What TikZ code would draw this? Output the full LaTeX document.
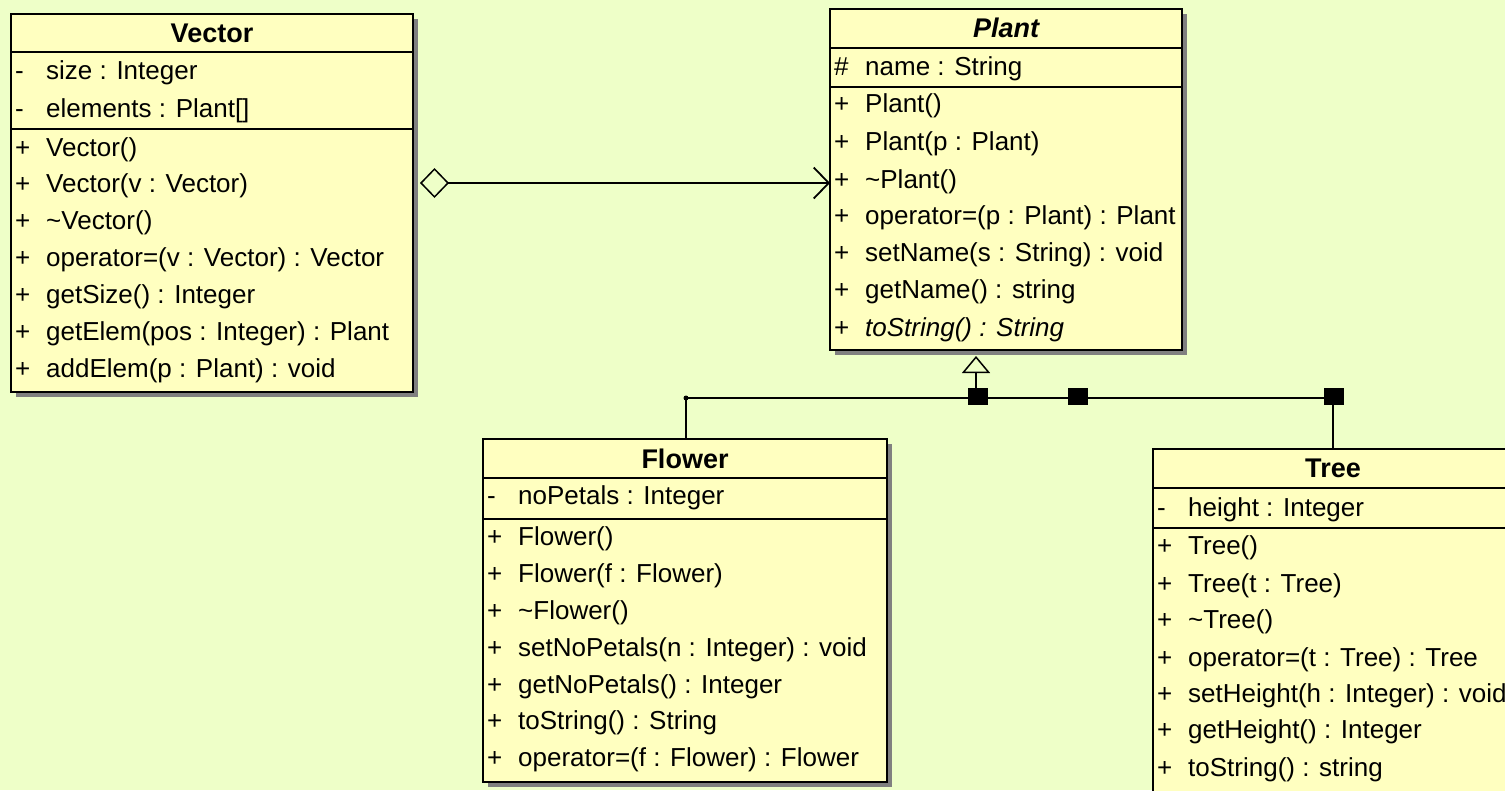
\documentclass[tikz,border=0pt]{standalone}
\usepackage{fontspec}
\setmainfont{Liberation Sans}
\usetikzlibrary{arrows.meta,shadows,positioning}

\definecolor{bgcolor}{RGB}{238,255,200}
\definecolor{boxcolor}{RGB}{255,255,192}

\tikzset{
	umlbox/.style={draw=black, line width=1.8pt, fill=boxcolor, inner sep=0pt, outer sep=0pt, anchor=north west,
		drop shadow={shadow xshift=5pt, shadow yshift=-5pt, fill=black!50, opacity=1}},
	umlline/.style={line width=1.8pt, draw=black},
	vis/.style={anchor=west, inner sep=0pt, text height=19pt, text depth=5pt, font=\fontsize{26}{31}\selectfont},
	member/.style={anchor=west, inner sep=0pt, text height=19pt, text depth=5pt, font=\fontsize{26}{31}\selectfont},
	classname/.style={inner sep=0pt, font=\fontsize{27}{32}\selectfont\bfseries},
	handle/.style={fill=black, minimum width=20pt, minimum height=17pt, inner sep=0pt},
	joint/.style={circle, fill=black, minimum size=5pt, inner sep=0pt},
}
\newcommand{\classrow}[5]{\node[vis] (#1-vis) at (#2,#3) {#4}; \node[member] (#1) at (#2+31,#3) {#5};}

\begin{document}
\begin{tikzpicture}[x=1pt, y=-1pt]
	%%%%% START %%%%%
	\useasboundingbox (0,0) rectangle (1505,790);
	\fill[bgcolor] (0,0) rectangle (1505,790);
	\clip (0,0) rectangle (1505,790);
	
	% Vector
	\node[umlbox, minimum width=402pt, minimum height=378pt] (vector) at (11,14) {};
	\draw[umlline] (vector.west |- 0,52) -- (vector.east |- 0,52);
	\draw[umlline] (vector.west |- 0,129) -- (vector.east |- 0,129);
	\node[classname] (vector-name) at (212,33) {Vector};
	\classrow{vec-a1}{15}{72}{-}{size : Integer}
	\classrow{vec-a2}{15}{110}{-}{elements : Plant[]}
	\classrow{vec-m1}{15}{149}{+}{Vector()}
	\classrow{vec-m2}{15}{185}{+}{Vector(v : Vector)}
	\classrow{vec-m3}{15}{222}{+}{\textasciitilde Vector()}
	\classrow{vec-m4}{15}{259}{+}{operator=(v : Vector) : Vector}
	\classrow{vec-m5}{15}{296}{+}{getSize() : Integer}
	\classrow{vec-m6}{15}{333}{+}{getElem(pos : Integer) : Plant}
	\classrow{vec-m7}{15}{370}{+}{addElem(p : Plant) : void}
	
	% Plant
	\node[umlbox, minimum width=352pt, minimum height=341pt] (plant) at (830,9) {};
	\draw[umlline] (plant.west |- 0,48) -- (plant.east |- 0,48);
	\draw[umlline] (plant.west |- 0,87) -- (plant.east |- 0,87);
	\node[classname, font=\fontsize{27}{32}\selectfont\bfseries\itshape] (plant-name) at (1006,28) {Plant};
	\classrow{pla-a1}{834}{68}{\#}{name : String}
	\classrow{pla-m1}{834}{105}{+}{Plant()}
	\classrow{pla-m2}{834}{143}{+}{Plant(p : Plant)}
	\classrow{pla-m3}{834}{181}{+}{\textasciitilde Plant()}
	\classrow{pla-m4}{834}{217}{+}{operator=(p : Plant) : Plant}
	\classrow{pla-m5}{834}{254}{+}{setName(s : String) : void}
	\classrow{pla-m6}{834}{291}{+}{getName() : string}
	\classrow{pla-m7}{834}{329}{+}{\itshape toString() : String}
	
	% Flower
	\node[umlbox, minimum width=404pt, minimum height=343pt] (flower) at (483,439) {};
	\draw[umlline] (flower.west |- 0,478) -- (flower.east |- 0,478);
	\draw[umlline] (flower.west |- 0,519) -- (flower.east |- 0,519);
	\node[classname] (flower-name) at (685,459) {Flower};
	\classrow{flo-a1}{487}{497}{-}{noPetals : Integer}
	\classrow{flo-m1}{487}{538}{+}{Flower()}
	\classrow{flo-m2}{487}{575}{+}{Flower(f : Flower)}
	\classrow{flo-m3}{487}{612}{+}{\textasciitilde Flower()}
	\classrow{flo-m4}{487}{649}{+}{setNoPetals(n : Integer) : void}
	\classrow{flo-m5}{487}{686}{+}{getNoPetals() : Integer}
	\classrow{flo-m6}{487}{722}{+}{toString() : String}
	\classrow{flo-m7}{487}{759}{+}{operator=(f : Flower) : Flower}
	
	% Tree
	\node[umlbox, minimum width=360pt, minimum height=360pt] (tree) at (1153,449) {};
	\draw[umlline] (tree.west |- 0,488) -- (tree.east |- 0,488);
	\draw[umlline] (tree.west |- 0,528) -- (tree.east |- 0,528);
	\node[classname] (tree-name) at (1333,468) {Tree};
	\classrow{tre-a1}{1157}{509}{-}{height : Integer}
	\classrow{tre-m1}{1157}{547}{+}{Tree()}
	\classrow{tre-m2}{1157}{585}{+}{Tree(t : Tree)}
	\classrow{tre-m3}{1157}{621}{+}{\textasciitilde Tree()}
	\classrow{tre-m4}{1157}{659}{+}{operator=(t : Tree) : Tree}
	\classrow{tre-m5}{1157}{695}{+}{setHeight(h : Integer) : void}
	\classrow{tre-m6}{1157}{731}{+}{getHeight() : Integer}
	\classrow{tre-m7}{1157}{769}{+}{toString() : string}
	
	% aggregation Vector -> Plant
	\coordinate (assoc) at (0,183);
	\draw[umlline, {Diamond[open, length=29pt, width=30pt, line width=1.5pt]}-{Straight Barb[length=15pt, width=31pt, line width=1.8pt]}, shorten <=7pt]
		(vector.east |- assoc) -- (plant.west |- assoc);
	
	% generalization Flower, Tree -> Plant
	\coordinate (split) at (976,398);
	\coordinate (flowerjoin) at (686,398);
	\coordinate (treejoin) at (1333,398);
	\draw[umlline, -{Triangle[open, length=17pt, width=28pt, line width=1.5pt]}, shorten >=6pt] (split) -- (plant.south -| split);
	\draw[umlline] (flower.north -| flowerjoin) -- (flowerjoin) -- (treejoin) -- (tree.north -| treejoin);
	\node[joint] (dot) at (flowerjoin) {};
	\node[handle] (h1) at (978,396) {};
	\node[handle] (h2) at (1078,396) {};
	\node[handle] (h3) at (1334,396) {};
	
	%%%%% END %%%%%
\end{tikzpicture}
\end{document}
